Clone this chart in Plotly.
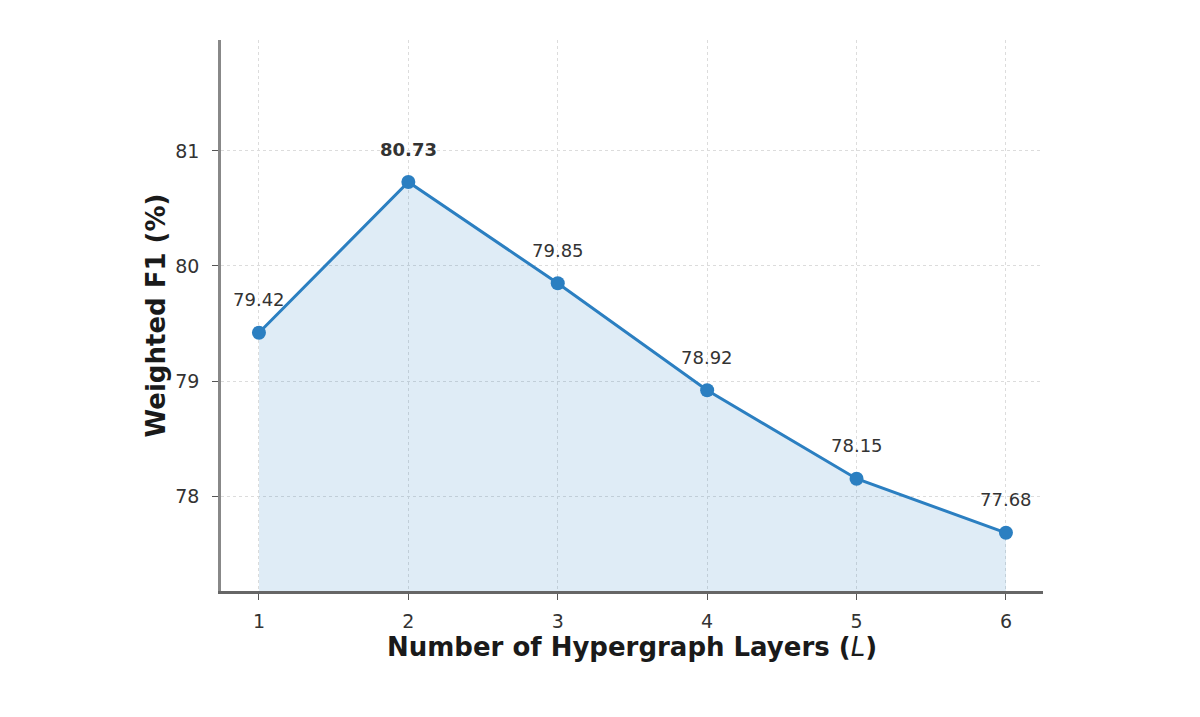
import plotly.graph_objects as go

layers = [1, 2, 3, 4, 5, 6]
f1_scores = [79.42, 80.73, 79.85, 78.92, 78.15, 77.68]
y_ticks = [78, 79, 80, 81]

line_color = "#2b7fc1"

fig = go.Figure()

fig.add_trace(go.Scatter(
    x=layers, y=f1_scores, mode="lines+markers",
    line=dict(color=line_color, width=3),
    marker=dict(color=line_color, size=14),
    fill="tozeroy", fillcolor="rgba(43,127,193,0.15)",
    showlegend=False, cliponaxis=False))

best = max(f1_scores)
for x, y in zip(layers, f1_scores):
    label = f"{y:.2f}"
    if y == best:
        label = "<b>" + label + "</b>"
    fig.add_annotation(x=x, y=y, text=label, showarrow=False, yshift=33,
                       font=dict(family="DejaVu Sans", size=18, color="#333333"))

grid = dict(showgrid=True, gridcolor="#dcdcdc", griddash="3px,3px", gridwidth=1,
            zeroline=False, ticks="outside", ticklen=6, tickcolor="#555555",
            showline=True, linewidth=2.5, tickfont=dict(size=19, color="#333333"))

fig.update_xaxes(
    range=[0.746, 6.248], tickvals=layers, linecolor="#666666",
    ticklabelstandoff=5,
    title=dict(text="<b>Number of Hypergraph Layers (</b><i>L</i><b>)</b>",
               font=dict(size=26, color="#1a1a1a"), standoff=5),
    **grid)

fig.update_yaxes(
    range=[77.174, 81.965], tickvals=y_ticks, linecolor="#888888",
    ticklabelstandoff=9,
    title=dict(text="<b>Weighted F1 (%)</b>",
               font=dict(size=26, color="#1a1a1a"), standoff=3),
    **grid)

fig.update_layout(
    width=1200, height=717,
    margin=dict(l=213, r=165, t=32, b=134),
    plot_bgcolor="white", paper_bgcolor="white",
    font=dict(family="DejaVu Sans"))

fig.write_html("out.html")
